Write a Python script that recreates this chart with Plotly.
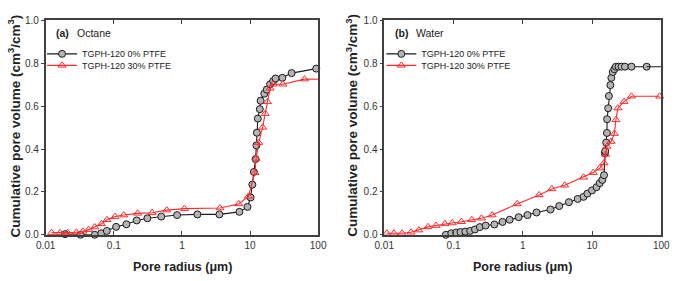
import plotly.graph_objects as go

# ---------------- data ----------------
oct_r0 = [0.0192, 0.0325, 0.0525, 0.0653, 0.079, 0.108, 0.153, 0.217, 0.311, 0.497, 0.849, 1.69, 3.55,
          6.98, 9.16, 10.2, 10.8, 11.4, 12.05, 12.4, 12.6, 13.0, 13.9, 14.3, 16.2, 17.6, 19.7, 21.9,
          23.7, 29.8, 40.8, 93.7]
oct_v0 = [0.003, 0.0, 0.0, 0.007, 0.018, 0.037, 0.049, 0.067, 0.077, 0.085, 0.092, 0.095, 0.095,
          0.107, 0.13, 0.174, 0.234, 0.293, 0.353, 0.417, 0.476, 0.542, 0.586, 0.625, 0.658, 0.677,
          0.702, 0.717, 0.729, 0.732, 0.754, 0.775]

oct_r30 = [0.0122, 0.0163, 0.021, 0.0282, 0.0351, 0.0427, 0.0525, 0.066, 0.0795, 0.1045, 0.140, 0.224,
           0.366, 0.598, 1.09, 3.62, 6.82, 9.46, 11.8, 12.3, 13.4, 15.3, 16.7, 18.0, 19.7, 21.9, 30.4, 63.2]
oct_v30 = [0.010, 0.009, 0.010, 0.012, 0.016, 0.024, 0.036, 0.051, 0.070, 0.085, 0.092, 0.100,
           0.103, 0.115, 0.122, 0.125, 0.144, 0.179, 0.290, 0.356, 0.430, 0.501, 0.565, 0.620, 0.683,
           0.702, 0.702, 0.726]
oct_tail30 = 0.725

wat_r0 = [0.0775, 0.0929, 0.109, 0.126, 0.148, 0.174, 0.204, 0.240, 0.291, 0.389, 0.510, 0.646, 0.871,
          1.17, 1.58, 2.51, 3.36, 4.64, 6.21, 7.54, 8.57, 9.98, 11.6, 12.9, 14.1, 14.9, 15.3, 15.5, 16.0,
          16.4, 16.5, 17.1, 17.5, 18.4, 19.0, 19.9, 21.0, 22.1, 24.1, 26.6, 29.9, 37.1, 61.5]
wat_v0 = [0.0, 0.007, 0.010, 0.013, 0.015, 0.018, 0.025, 0.036, 0.043, 0.048, 0.060, 0.070, 0.082,
          0.092, 0.104, 0.118, 0.134, 0.152, 0.167, 0.177, 0.192, 0.207, 0.222, 0.241, 0.256, 0.278, 0.38,
          0.39, 0.43, 0.475, 0.539, 0.59, 0.647, 0.698, 0.732, 0.759, 0.772, 0.784, 0.784, 0.784, 0.784,
          0.784, 0.784]
wat_tail0 = 0.784

wat_r30 = [0.0109, 0.0138, 0.0181, 0.0244, 0.0316, 0.0428, 0.0561, 0.075, 0.096, 0.130, 0.183, 0.253,
           0.362, 0.828, 1.72, 2.62, 4.03, 7.54, 10.4, 12.9, 14.9, 15.7, 16.4, 18.8, 21.0, 22.1, 23.6,
           29.0, 37.1, 94.8]
wat_v30 = [0.007, 0.007, 0.007, 0.012, 0.022, 0.037, 0.043, 0.051, 0.055, 0.061, 0.070, 0.077,
           0.092, 0.144, 0.186, 0.214, 0.231, 0.268, 0.290, 0.311, 0.335, 0.375, 0.412, 0.435, 0.472,
           0.536, 0.591, 0.621, 0.646, 0.646]

x_ticks = [0.01, 0.1, 1, 10, 100]
x_ticktext = ["0.01", "0.1", "1", "10", "100"]
y_ticks = [0.0, 0.2, 0.4, 0.6, 0.8, 1.0]
names = ["TGPH-120 0% PTFE", "TGPH-120 30% PTFE"]
panel_labels = [("(a)", "Octane"), ("(b)", "Water")]

# ---------------- style ----------------
W, H = 681, 281
FONT = "Arial, Liberation Sans, sans-serif"
AX = "#404040"
BLACK = "#1a1a1a"
RED = "#ff2a2a"
GRAY = "#b4b4b4"

def px(x):
    return x / W

def py(y):
    return (H - y) / H

fig = go.Figure()

def add_series(xa, ya, r0, v0, r30, v30, legs, tail0=None, tail30=None):
    fig.add_trace(go.Scatter(
        x=r0, y=v0, mode="lines+markers", name=names[0], xaxis=xa, yaxis=ya, legend=legs[0],
        line=dict(color=BLACK, width=1.1), cliponaxis=False,
        marker=dict(symbol="circle", size=7, color=GRAY, line=dict(color=BLACK, width=1))))
    fig.add_trace(go.Scatter(
        x=r30, y=v30, mode="lines+markers", name=names[1], xaxis=xa, yaxis=ya, legend=legs[1],
        line=dict(color=RED, width=1.1), cliponaxis=False,
        marker=dict(symbol="triangle-up-open", size=7, color=RED, line=dict(color=RED, width=1))))
    if tail0 is not None:
        fig.add_trace(go.Scatter(x=[r0[-1], 120], y=[v0[-1], tail0], mode="lines", xaxis=xa, yaxis=ya,
                                 line=dict(color=BLACK, width=1.1), showlegend=False, hoverinfo="skip"))
    if tail30 is not None:
        fig.add_trace(go.Scatter(x=[r30[-1], 120], y=[v30[-1], tail30], mode="lines", xaxis=xa, yaxis=ya,
                                 line=dict(color=RED, width=1.1), showlegend=False, hoverinfo="skip"))

add_series("x", "y", oct_r0, oct_v0, oct_r30, oct_v30, ["legend", "legend2"], tail30=oct_tail30)
add_series("x2", "y2", wat_r0, wat_v0, wat_r30, wat_v30, ["legend3", "legend4"], tail0=wat_tail0)

xdom1 = [px(36.7), px(317)]
xdom2 = [px(385), px(670)]
ydom = [py(239), py(15)]

tickfont = dict(family=FONT, size=10, color="#333333")

def xaxis(dom, anchor):
    return dict(type="log", range=[-2, 2], domain=dom, anchor=anchor,
                tickvals=x_ticks, ticktext=x_ticktext, ticks="inside", ticklen=4,
                tickcolor=AX, tickwidth=1, showline=True, linecolor=AX, linewidth=1.5,
                mirror="ticks", showgrid=False, zeroline=False, tickfont=tickfont)

def yaxis(anchor):
    return dict(range=[0, 1], domain=ydom, anchor=anchor, tickvals=y_ticks, tickformat=".1f",
                ticks="outside", ticklen=3, tickcolor=AX, tickwidth=1, showline=True,
                linecolor=AX, linewidth=1.5, mirror=True, showgrid=False, zeroline=False,
                tickfont=tickfont)

def yaxis_right(anchor, over):
    return dict(range=[0, 1], domain=ydom, anchor=anchor, overlaying=over, side="right",
                tickvals=y_ticks, ticks="inside", ticklen=4, tickcolor=AX, tickwidth=1,
                showticklabels=False, showline=False, showgrid=False, zeroline=False)

def legend_at(x, y):
    return dict(font=dict(family=FONT, size=9, color="#222222"), bgcolor="rgba(0,0,0,0)",
                xanchor="left", yanchor="middle", x=px(x), y=py(y), itemwidth=30,
                borderwidth=0)

fig.update_layout(
    width=W, height=H, margin=dict(l=0, r=0, t=0, b=0),
    paper_bgcolor="white", plot_bgcolor="white",
    font=dict(family=FONT),
    xaxis=xaxis(xdom1, "y"), yaxis=yaxis("x"),
    xaxis2=xaxis(xdom2, "y2"), yaxis2=yaxis("x2"),
    yaxis3=yaxis_right("x", "y"), yaxis4=yaxis_right("x2", "y2"),
    legend=legend_at(33, 50), legend2=legend_at(33, 62),
    legend3=legend_at(382, 50), legend4=legend_at(382, 62),
)

ann = []
for (lab, txt), x0 in zip(panel_labels, [45, 394]):
    ann.append(dict(text="<b>" + lab + "</b>", x=px(x0), y=py(28), xref="paper", yref="paper",
                    xanchor="left", yanchor="middle", showarrow=False,
                    font=dict(family=FONT, size=10.5, color="#222222")))
    ann.append(dict(text=txt, x=px(x0 + 22), y=py(28), xref="paper", yref="paper",
                    xanchor="left", yanchor="middle", showarrow=False,
                    font=dict(family=FONT, size=10.5, color="#222222")))
for cx, ty in [(177, 4), (527.5, 351)]:
    ann.append(dict(text="<b>Pore radius (μm)</b>", x=px(cx), y=py(273), xref="paper", yref="paper",
                    xanchor="center", yanchor="middle", showarrow=False,
                    font=dict(family=FONT, size=12.5, color="#222222")))
    ann.append(dict(text="<b>Cumulative pore volume (cm<sup>3</sup>/cm<sup>3</sup>)</b>",
                    x=px(ty), y=py(125), xref="paper", yref="paper", textangle=-90,
                    xanchor="center", yanchor="middle", showarrow=False,
                    font=dict(family=FONT, size=13.5, color="#222222")))
fig.update_layout(annotations=ann)

fig.write_html("out.html")
